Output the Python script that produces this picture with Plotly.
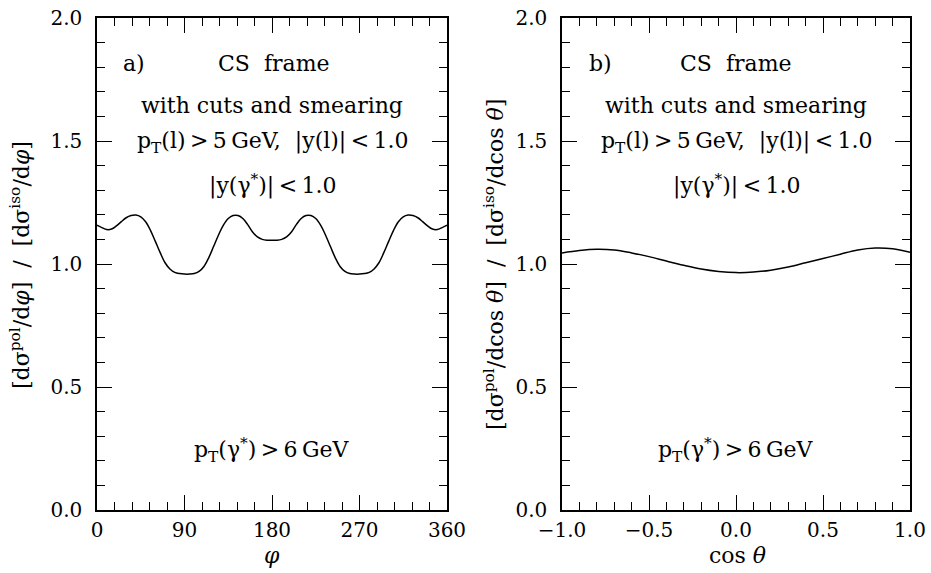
import plotly.graph_objects as go

# ---------------- data ----------------
phi = list(range(0, 365, 5))
ratio_phi = [1.158, 1.148, 1.140, 1.142, 1.155, 1.172, 1.188, 1.197, 1.199, 1.192,
             1.172, 1.137, 1.092, 1.046, 1.005, 0.980, 0.966, 0.961, 0.959, 0.959,
             0.961, 0.970, 0.990, 1.026, 1.072, 1.118, 1.158, 1.185, 1.197, 1.197,
             1.185, 1.160, 1.130, 1.110, 1.100, 1.097, 1.097,
             1.097, 1.100, 1.110, 1.130, 1.160, 1.185, 1.197, 1.197, 1.185, 1.158,
             1.118, 1.072, 1.026, 0.990, 0.970, 0.961, 0.959, 0.959, 0.961, 0.966,
             0.980, 1.005, 1.046, 1.092, 1.137, 1.172, 1.192, 1.199, 1.197, 1.188,
             1.172, 1.155, 1.142, 1.140, 1.148, 1.158]

cos_theta = [-1.0, -0.9, -0.8, -0.7, -0.6, -0.5, -0.4, -0.3, -0.2, -0.1, 0.0,
             0.1, 0.2, 0.3, 0.4, 0.5, 0.6, 0.7, 0.8, 0.9, 1.0]
ratio_cos = [1.045, 1.055, 1.060, 1.057, 1.045, 1.030, 1.012, 0.995, 0.980, 0.970, 0.965,
             0.967, 0.975, 0.988, 1.005, 1.022, 1.040, 1.057, 1.065, 1.062, 1.048]

phi_ticks = [0, 90, 180, 270, 360]
cos_ticks = [-1.0, -0.5, 0.0, 0.5, 1.0]
y_ticks = [0.0, 0.5, 1.0, 1.5, 2.0]

FONT = "DejaVu Serif"
W, H = 931, 573

fig = go.Figure()
fig.add_trace(go.Scatter(x=phi, y=ratio_phi, mode="lines", line=dict(color="black", width=1.5, shape="spline"),
                         xaxis="x", yaxis="y", showlegend=False, hoverinfo="skip"))
fig.add_trace(go.Scatter(x=cos_theta, y=ratio_cos, mode="lines", line=dict(color="black", width=1.5, shape="spline"),
                         xaxis="x2", yaxis="y2", showlegend=False, hoverinfo="skip"))

def xdom(a, b):
    return [a / W, b / W]

ydom = [1 - 510 / H, 1 - 18 / H]

common_axis = dict(showline=True, linecolor="black", linewidth=1.5, mirror="allticks",
                   ticks="inside", ticklen=15, tickwidth=1.2, tickcolor="black",
                   showgrid=False, zeroline=False, automargin=False,
                   tickfont=dict(family=FONT, size=20, color="black"))

minor_style = dict(ticklen=8, ticks="inside", tickcolor="black", tickwidth=1)

fig.update_layout(
    width=W, height=H, margin=dict(l=0, r=0, t=0, b=0),
    paper_bgcolor="white", plot_bgcolor="white",
    font=dict(family=FONT, size=20, color="black"),
    xaxis=dict(domain=xdom(97, 447), range=[0, 360], tickvals=phi_ticks,
               minor=dict(dtick=18, **minor_style),
               anchor="y", ticklabelstandoff=1, **common_axis),
    yaxis=dict(domain=ydom, range=[0, 2], tickvals=y_ticks, tickformat=".1f",
               minor=dict(dtick=0.1, **minor_style),
               anchor="x", ticklabelstandoff=9, **common_axis),
    xaxis2=dict(domain=xdom(562, 910), range=[-1, 1], tickvals=cos_ticks, tickformat=".1f",
                minor=dict(dtick=0.1, **minor_style),
                anchor="y2", ticklabelstandoff=1, **common_axis),
    yaxis2=dict(domain=ydom, range=[0, 2], tickvals=y_ticks, tickformat=".1f",
                minor=dict(dtick=0.1, **minor_style),
                anchor="x2", ticklabelstandoff=9, **common_axis),
)

def ann(text, x, y, xref, yref, size=22, **kw):
    d = dict(text=text, x=x, y=y, xref=xref, yref=yref, showarrow=False,
             xanchor="center", yanchor="middle",
             font=dict(family=FONT, size=size, color="black"))
    d.update(kw)
    fig.add_annotation(**d)

TS = "\u2009"
cut_l = f"p<sub>T</sub>(l){TS}>{TS}5{TS}GeV,&nbsp;&nbsp;|y(l)|{TS}<{TS}1.0"
cut_g = f"|y(γ<sup>*</sup>)|{TS}<{TS}1.0"
cut_pt = f"p<sub>T</sub>(γ<sup>*</sup>){TS}>{TS}6{TS}GeV"

Y1, Y2, Y3, Y4, Y5 = 1.817, 1.646, 1.492, 1.322, 0.245

# panel a
ann("a)", 38, Y1, "x", "y")
ann("CS&nbsp;&nbsp;frame", 182, Y1, "x", "y")
ann("with cuts and smearing", 180, Y2, "x", "y")
ann(cut_l, 180, Y3, "x", "y")
ann(cut_g, 180, Y4, "x", "y")
ann(cut_pt, 180, Y5, "x", "y")

# panel b
ann("b)", -0.78, Y1, "x2", "y2")
ann("CS&nbsp;&nbsp;frame", 0.0, Y1, "x2", "y2")
ann("with cuts and smearing", 0.0, Y2, "x2", "y2")
ann(cut_l, 0.0, Y3, "x2", "y2")
ann(cut_g, 0.0, Y4, "x2", "y2")
ann(cut_pt, 0.0, Y5, "x2", "y2")

# axis titles
ann("<i>φ</i>", 272 / W, 1 - 555 / H, "paper", "paper")
ann("cos <i>θ</i>", 737 / W, 1 - 555 / H, "paper", "paper")
ann("[dσ<sup>pol</sup>/d<i>φ</i>]&nbsp;&nbsp;/&nbsp;&nbsp;[dσ<sup>iso</sup>/d<i>φ</i>]", 20 / W, 1 - 265 / H,
    "paper", "paper", textangle=-90)
ann("[dσ<sup>pol</sup>/dcos <i>θ</i>]&nbsp;&nbsp;/&nbsp;&nbsp;[dσ<sup>iso</sup>/dcos <i>θ</i>]", 494 / W, 1 - 265 / H,
    "paper", "paper", textangle=-90)

fig.write_html("out.html", config={"displayModeBar": False},
               post_script="document.body.style.margin='0px';document.body.style.overflow='hidden';")
